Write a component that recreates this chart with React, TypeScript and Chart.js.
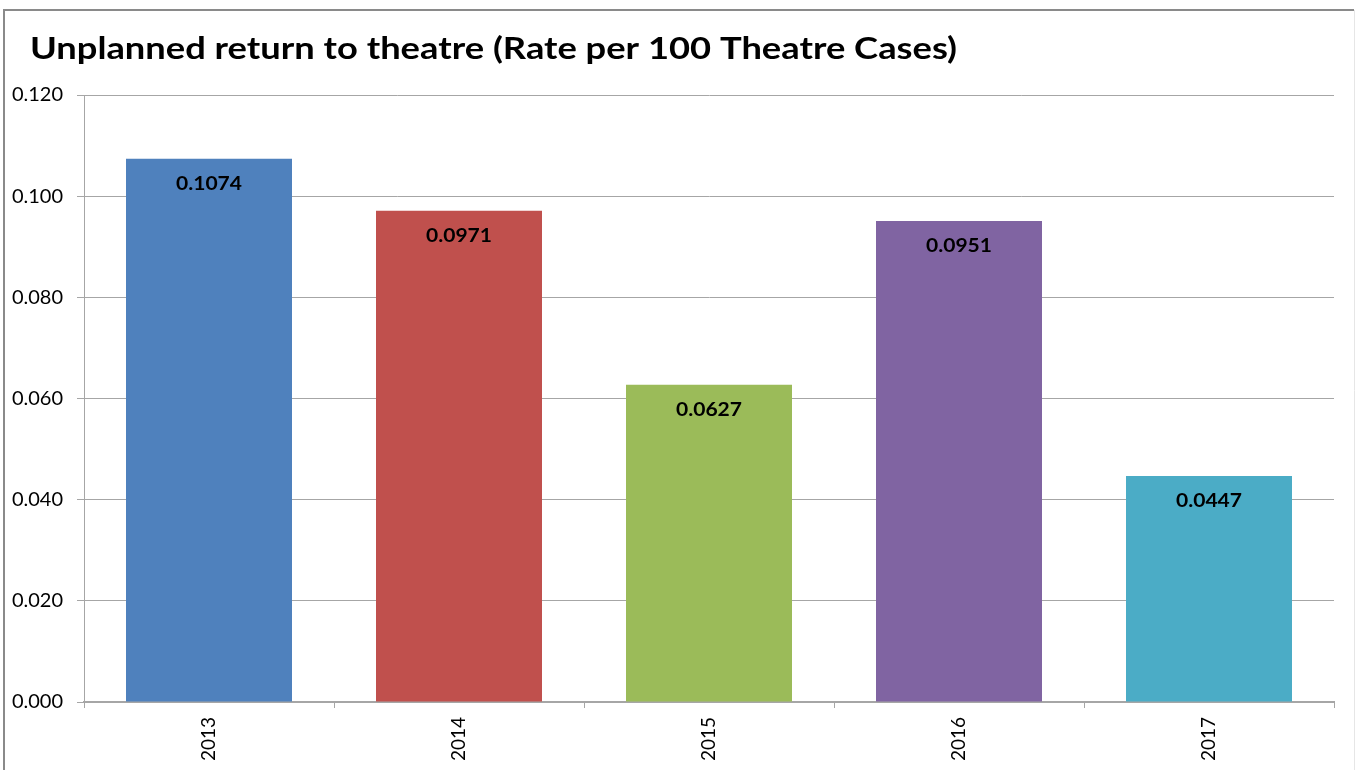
import React, { useEffect, useRef } from "react";
import { Chart, registerables } from "chart.js";

Chart.register(...registerables);

const TITLE = "Unplanned return to theatre (Rate per 100 Theatre Cases)";
const years = ["2013", "2014", "2015", "2016", "2017"];
const rates = [0.1074, 0.0971, 0.0627, 0.0951, 0.0447];
const barColors = ["#4F81BD", "#C0504D", "#9BBB59", "#8064A2", "#4BACC6"];
const yTicks = [0, 0.02, 0.04, 0.06, 0.08, 0.1, 0.12];

const FONT = "Lato, 'Open Sans', sans-serif";

const framePlugin = {
  id: "frame",
  beforeDraw(chart: any) {
    const ctx = chart.ctx;
    ctx.save();
    ctx.fillStyle = "#ffffff";
    ctx.fillRect(0, 0, chart.width, chart.height);
    ctx.strokeStyle = "#8a8a8a";
    ctx.lineWidth = 2;
    ctx.beginPath();
    ctx.moveTo(4, chart.height + 5);
    ctx.lineTo(4, 10);
    ctx.lineTo(1354, 10);
    ctx.stroke();
    ctx.strokeStyle = "#e6e6e6";
    ctx.lineWidth = 1;
    ctx.beginPath();
    ctx.moveTo(1354.5, 10);
    ctx.lineTo(1354.5, chart.height + 5);
    ctx.stroke();
    ctx.fillStyle = "#000000";
    ctx.font = `bold 31px ${FONT}`;
    ctx.textAlign = "left";
    ctx.textBaseline = "alphabetic";
    const w = ctx.measureText(TITLE).width;
    const sx = 927 / w;
    ctx.translate(30, 59);
    ctx.scale(sx, 1);
    ctx.fillText(TITLE, 0, 0);
    ctx.restore();
  },
  afterDatasetsDraw(chart: any) {
    const ctx = chart.ctx;
    const meta = chart.getDatasetMeta(0);
    ctx.save();
    ctx.fillStyle = "#000000";
    ctx.font = `bold 19px ${FONT}`;
    ctx.textAlign = "center";
    ctx.textBaseline = "middle";
    meta.data.forEach((bar: any, i: number) => {
      const txt = rates[i].toFixed(4);
      const w = ctx.measureText(txt).width;
      ctx.save();
      ctx.translate(bar.x, bar.y + 25);
      ctx.scale(66 / w, 1);
      ctx.fillText(txt, 0, 0);
      ctx.restore();
    });
    ctx.restore();
  },
};

export default function App() {
  const ref = useRef<HTMLCanvasElement>(null);
  useEffect(() => {
    if (!ref.current) return;
    const chart = new Chart(ref.current, {
      type: "bar",
      data: {
        labels: years,
        datasets: [
          {
            data: rates,
            backgroundColor: barColors,
            borderWidth: 0,
            barPercentage: 0.664,
            categoryPercentage: 1,
          },
        ],
      },
      options: {
        animation: false,
        responsive: false,
        devicePixelRatio: 1,
        layout: { padding: { left: 0, right: 22, top: 95, bottom: 0 } },
        plugins: {
          legend: { display: false },
          title: { display: false },
          tooltip: { enabled: false },
        },
        scales: {
          x: {
            afterFit(scale: any) {
              scale.height = 68;
            },
            grid: {
              offset: true,
              drawOnChartArea: false,
              drawTicks: true,
              tickLength: 6,
              color: "#a6a6a6",
              lineWidth: 1,
            },
            border: { color: "#a6a6a6", width: 2 },
            ticks: {
              minRotation: 90,
              maxRotation: 90,
              padding: 9,
              color: "#000000",
              font: { family: FONT, size: 19 },
            },
          },
          y: {
            min: 0,
            max: 0.12,
            afterFit(scale: any) {
              scale.width = 84;
            },
            afterBuildTicks(scale: any) {
              scale.ticks = yTicks.map((v) => ({ value: v }));
            },
            grid: {
              color: "#a6a6a6",
              lineWidth: 1,
              tickLength: 7,
              drawTicks: true,
            },
            border: { color: "#a6a6a6", width: 1 },
            ticks: {
              padding: 14,
              color: "#000000",
              font: { family: FONT, size: 20 },
              callback: (v: any) => Number(v).toFixed(3),
            },
          },
        },
      },
      plugins: [framePlugin],
    });
    return () => chart.destroy();
  }, []);
  return (
    <div style={{ position: "fixed", left: 0, top: 0, width: 1356, height: 770, overflow: "hidden", background: "#fff" }}>
      <canvas ref={ref} width={1356} height={770} style={{ display: "block" }} />
    </div>
  );
}
